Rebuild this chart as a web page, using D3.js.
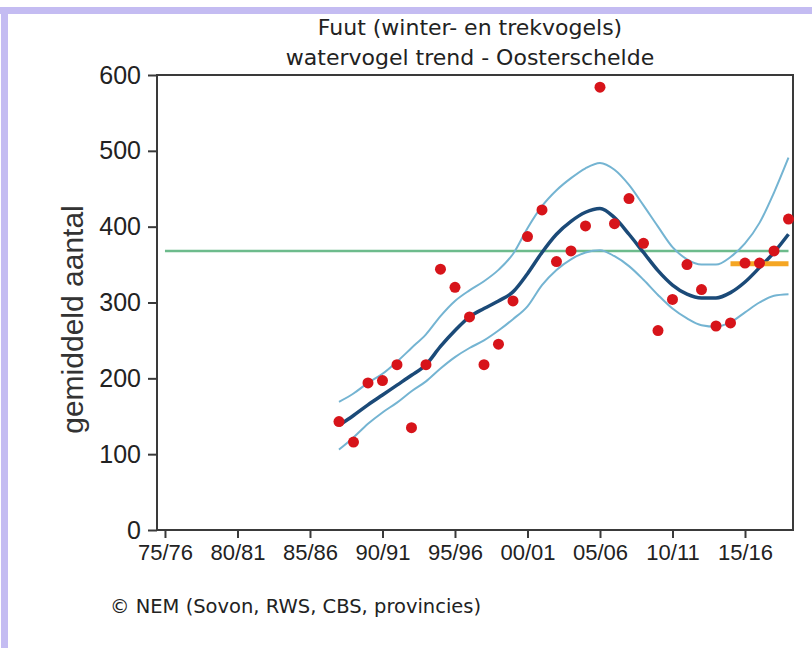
<!DOCTYPE html>
<html>
<head>
<meta charset="utf-8">
<script src="https://cdn.jsdelivr.net/npm/d3@7"></script>
<style>
    body { margin: 0; background: #ffffff; }
    .axis path, .axis line { stroke: #3a3a3a; stroke-width: 2px; }
    .axis text { font-family: "Liberation Sans", Arial, sans-serif; fill: #222; }
</style>
</head>
<body>
<div id="chart"></div>
<script>
const TITLE = ['Fuut (winter- en trekvogels)', 'watervogel trend - Oosterschelde'];
const Y_LABEL = 'gemiddeld aantal';
const SOURCE = '\u00a9 NEM (Sovon, RWS, CBS, provincies)';

const X_TICKS = [1975, 1980, 1985, 1990, 1995, 2000, 2005, 2010, 2015];
const X_TICK_LABELS = ['75/76', '80/81', '85/86', '90/91', '95/96', '00/01', '05/06', '10/11', '15/16'];
const Y_TICKS = [0, 100, 200, 300, 400, 500, 600];

const years = [1987, 1988, 1989, 1990, 1991, 1992, 1993, 1994, 1995, 1996, 1997, 1998, 1999, 2000, 2001, 2002,
    2003, 2004, 2005, 2006, 2007, 2008, 2009, 2010, 2011, 2012, 2013, 2014, 2015, 2016, 2017, 2018];
const counts = [143, 116, 194, 197, 218, 135, 218, 344, 320, 281, 218, 245, 302, 387, 422, 354,
    368, 401, 584, 404, 437, 378, 263, 304, 350, 317, 269, 273, 352, 352, 368, 410];
const trend = [138, 151, 165, 178, 191, 204, 218, 242, 263, 281, 292, 302, 314, 338, 366, 390,
    407, 419, 424, 412, 390, 366, 342, 323, 311, 306, 306, 313, 327, 346, 366, 390];
const upper = [169, 180, 194, 206, 222, 240, 258, 282, 302, 316, 328, 343, 364, 398, 427, 448,
    464, 477, 484, 475, 455, 428, 400, 373, 357, 350, 350, 360, 378, 405, 445, 491];
const lower = [106, 122, 140, 155, 168, 183, 196, 213, 228, 240, 250, 263, 278, 295, 323, 343,
    357, 366, 369, 361, 348, 330, 310, 292, 279, 270, 268, 274, 287, 300, 309, 311];

// reference level (green) and recent level (orange)
const refLevel = { from: 1975, to: 2018, value: 368 };
const recentLevel = { from: 2014, to: 2018, value: 351 };

const _W = 812, _H = 648;
const _PLOT = { x0: 157, x1: 793, y0: 75, y1: 530 };

let svg = d3.select('#chart').append('svg')
    .attr('width', _W)
    .attr('height', _H);

// frame of the page
svg.append('rect').attr('x', 0).attr('y', 0).attr('width', _W).attr('height', _H).attr('fill', '#ffffff');
svg.append('rect').attr('x', 0).attr('y', 7).attr('width', _W).attr('height', 7).attr('fill', '#c4bcf2');
svg.append('rect').attr('x', 1).attr('y', 7).attr('width', 7).attr('height', _H - 7).attr('fill', '#c4bcf2');

let x = d3.scaleLinear()
    .domain([1974.45, 2018.31])
    .range([_PLOT.x0, _PLOT.x1]);
let y = d3.scaleLinear()
    .domain([0, 600])
    .range([_PLOT.y1, _PLOT.y0]);

// titles
svg.append('g')
    .selectAll('text')
    .data(TITLE)
    .enter().append('text')
    .attr('x', 470)
    .attr('y', (d, i) => 35 + i * 30)
    .attr('text-anchor', 'middle')
    .style('font-family', '"DejaVu Sans", Verdana, sans-serif')
    .style('font-size', '22px')
    .style('fill', '#222')
    .text(d => d);

// box
svg.append('rect')
    .attr('x', _PLOT.x0).attr('y', _PLOT.y0)
    .attr('width', _PLOT.x1 - _PLOT.x0).attr('height', _PLOT.y1 - _PLOT.y0)
    .attr('fill', 'none')
    .attr('stroke', '#3a3a3a')
    .attr('stroke-width', 2);

let xAxis = d3.axisBottom(x)
    .tickValues(X_TICKS)
    .tickFormat((d, i) => X_TICK_LABELS[i])
    .tickSize(8)
    .tickSizeOuter(0)
    .tickPadding(6);
let gX = svg.append('g')
    .attr('class', 'axis axis--x')
    .attr('transform', 'translate(0,' + _PLOT.y1 + ')')
    .call(xAxis);
gX.select('.domain').remove();
gX.selectAll('text').style('font-size', '22px');

let yAxis = d3.axisLeft(y)
    .tickValues(Y_TICKS)
    .tickSize(9)
    .tickSizeOuter(0)
    .tickPadding(7);
let gY = svg.append('g')
    .attr('class', 'axis axis--y')
    .attr('transform', 'translate(' + _PLOT.x0 + ',0)')
    .call(yAxis);
gY.select('.domain').remove();
gY.selectAll('text').style('font-size', '25px');

svg.append('text')
    .attr('transform', 'translate(83,' + ((_PLOT.y0 + _PLOT.y1) / 2 + 17) + ') rotate(-90)')
    .attr('text-anchor', 'middle')
    .style('font-family', '"Liberation Sans", Arial, sans-serif')
    .style('font-size', '30px')
    .style('fill', '#333')
    .text(Y_LABEL);

let plot = svg.append('g').attr('class', 'plot');

// reference line
plot.append('line')
    .attr('x1', x(refLevel.from)).attr('x2', x(refLevel.to))
    .attr('y1', y(refLevel.value)).attr('y2', y(refLevel.value))
    .attr('stroke', '#6dbb8c')
    .attr('stroke-width', 2.5);

let line = d3.line()
    .x((d, i) => x(years[i]))
    .y(d => y(d))
    .curve(d3.curveMonotoneX);

[upper, lower].forEach(band => {
    plot.append('path')
        .attr('d', line(band))
        .attr('fill', 'none')
        .attr('stroke', '#74b4d2')
        .attr('stroke-width', 2);
});

plot.append('path')
    .attr('d', line(trend))
    .attr('fill', 'none')
    .attr('stroke', '#1b4a78')
    .attr('stroke-width', 3.5);

plot.append('line')
    .attr('x1', x(recentLevel.from)).attr('x2', x(recentLevel.to))
    .attr('y1', y(recentLevel.value)).attr('y2', y(recentLevel.value))
    .attr('stroke', '#f5a623')
    .attr('stroke-width', 5);

plot.selectAll('circle')
    .data(counts)
    .enter().append('circle')
    .attr('cx', (d, i) => x(years[i]))
    .attr('cy', d => y(d))
    .attr('r', 5.5)
    .attr('fill', '#d7141a');

svg.append('text')
    .attr('x', 110)
    .attr('y', 613)
    .style('font-family', '"DejaVu Sans", Verdana, sans-serif')
    .style('font-size', '19.5px')
    .style('fill', '#222')
    .text(SOURCE);
</script>
</body>
</html>
